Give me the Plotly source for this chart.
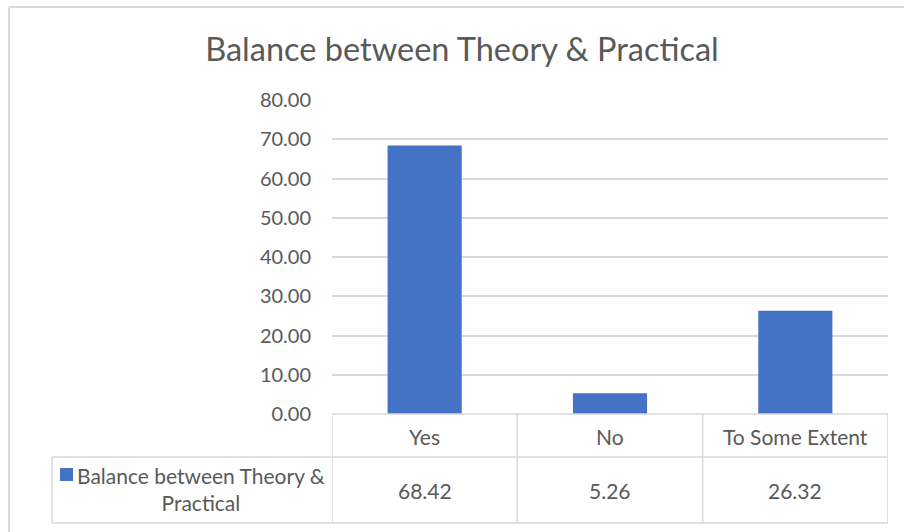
import plotly.graph_objects as go

categories = ["Yes", "No", "To Some Extent"]
values = [68.42, 5.26, 26.32]
series_name = "Balance between Theory & Practical"
title_text = "Balance between Theory & Practical"
y_ticks = [0, 10, 20, 30, 40, 50, 60, 70, 80]

BAR = "#4472C4"
TXT = "#595959"
GRID = "#D9D9D9"
FONT = "Lato"

W, H = 904, 532
L, R, T, B = 332, 16, 100, 118
pw, ph = W - L - R, H - T - B

def px_x(x):  # pixel -> paper x
    return (x - L) / pw

def px_y(y):  # pixel -> paper y
    return (H - B - y) / ph

fig = go.Figure()
fig.add_trace(go.Bar(
    x=list(range(len(categories))), y=values, name=series_name,
    marker=dict(color=BAR, line=dict(width=0)), width=0.4,
    showlegend=False,
))

shapes = []
line = dict(color=GRID, width=1.5)
# outer chart border (top and left)
shapes.append(dict(type="line", xref="paper", yref="paper", x0=px_x(9), x1=px_x(910), y0=px_y(7), y1=px_y(7), line=dict(color=GRID, width=2)))
shapes.append(dict(type="line", xref="paper", yref="paper", x0=px_x(9), x1=px_x(9), y0=px_y(7), y1=px_y(540), line=dict(color=GRID, width=2)))

# data table lines
n = len(categories)
y_top, y_mid, y_bot = px_y(414), px_y(457), px_y(523)
for i in range(n + 1):
    xb = i - 0.5
    shapes.append(dict(type="line", xref="x", yref="paper", x0=xb, x1=xb, y0=y_top, y1=y_bot, line=line))
shapes.append(dict(type="line", xref="x", yref="paper", x0=-0.5, x1=n - 0.5, y0=y_top, y1=y_top, line=line))
shapes.append(dict(type="line", xref="paper", yref="paper", x0=px_x(52), x1=1, y0=y_mid, y1=y_mid, line=line))
shapes.append(dict(type="line", xref="paper", yref="paper", x0=px_x(52), x1=1, y0=y_bot, y1=y_bot, line=line))
shapes.append(dict(type="line", xref="paper", yref="paper", x0=px_x(52), x1=px_x(52), y0=y_mid, y1=y_bot, line=line))
# legend key
shapes.append(dict(type="rect", xref="paper", yref="paper", x0=px_x(60), x1=px_x(73), y0=px_y(468), y1=px_y(481), fillcolor=BAR, line=dict(width=0)))

TS = 21
annotations = []
for i, (c, v) in enumerate(zip(categories, values)):
    annotations.append(dict(x=i, y=px_y(436), xref="x", yref="paper", text=c, showarrow=False,
                            font=dict(family=FONT, size=TS, color=TXT), xanchor="center", yanchor="middle"))
    annotations.append(dict(x=i, y=px_y(490), xref="x", yref="paper", text=f"{v:.2f}", showarrow=False,
                            font=dict(family=FONT, size=TS, color=TXT), xanchor="center", yanchor="middle"))
annotations.append(dict(x=px_x(201), y=px_y(489), xref="paper", yref="paper",
                        text="Balance between Theory &amp;<br>Practical", showarrow=False, align="center",
                        font=dict(family=FONT, size=TS, color=TXT), xanchor="center", yanchor="middle"))

fig.update_layout(
    width=W, height=H,
    margin=dict(l=L, r=R, t=T, b=B, autoexpand=False),
    paper_bgcolor="white", plot_bgcolor="white",
    title=dict(text=title_text, xref="container", yref="container", x=462 / W, y=1 - 50 / H,
               xanchor="center", yanchor="middle", font=dict(family=FONT, size=32.5, color=TXT)),
    xaxis=dict(range=[-0.5, n - 0.5], showticklabels=False, showgrid=False, zeroline=False, showline=False, fixedrange=True),
    yaxis=dict(range=[0, 80], tickvals=y_ticks, tickformat=".2f", showgrid=True, gridcolor=GRID, gridwidth=1.5,
               zeroline=False, showline=False, ticklabelstandoff=20,
               tickfont=dict(family=FONT, size=20, color=TXT)),
    shapes=shapes, annotations=annotations, bargap=0.6,
)

fig.write_html("out.html", config={"displayModeBar": False},
               post_script="document.body.style.margin='0';document.body.style.overflow='hidden';")
